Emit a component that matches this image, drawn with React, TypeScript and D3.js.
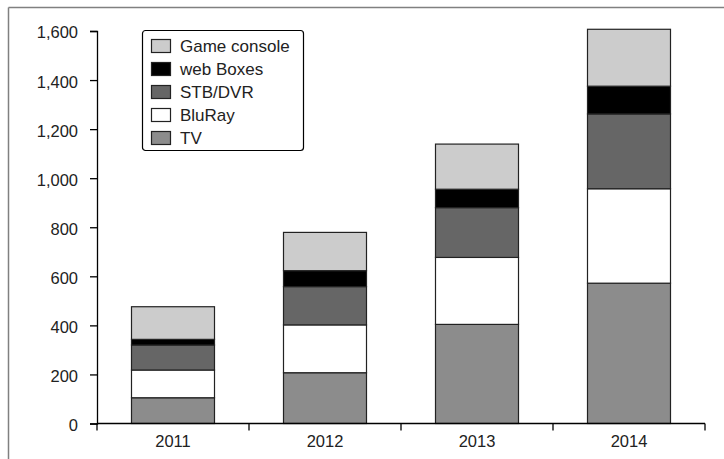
import { useEffect, useRef } from 'react';
import * as d3 from 'd3';

const years = ['2011', '2012', '2013', '2014'];
const seriesNames = ['TV', 'BluRay', 'STB/DVR', 'web Boxes', 'Game console'];
const tv = [105, 207, 404, 572];
const bluRay = [113, 195, 273, 385];
const stbDvr = [102, 156, 203, 305];
const webBoxes = [23, 65, 75, 113];
const gameConsole = [133, 156, 184, 232];
const yTicks = [0, 200, 400, 600, 800, 1000, 1200, 1400, 1600];
const colors = ['#8c8c8c', '#ffffff', '#666666', '#000000', '#cccccc'];

const W = 724;
const H = 459;
const FONT = '"Liberation Sans", Arial, sans-serif';

export default function App() {
  const svgRef = useRef<SVGSVGElement>(null);

  useEffect(() => {
    const svg = d3.select(svgRef.current);
    svg.selectAll('*').remove();

    const rows = years.map((year, i) => ({
      year,
      'TV': tv[i],
      'BluRay': bluRay[i],
      'STB/DVR': stbDvr[i],
      'web Boxes': webBoxes[i],
      'Game console': gameConsole[i],
    }));

    const left = 97;
    const right = 705;
    const top = 31;
    const bottom = 423.5;

    const x = d3.scaleBand().domain(years).range([left, right]).paddingInner(0).paddingOuter(0);
    const y = d3.scaleLinear().domain([0, 1600]).range([bottom, top]);
    const color = d3.scaleOrdinal<string>().domain(seriesNames).range(colors);

    // outer frame (only top & left show in the picture)
    svg.append('line').attr('x1', 8.5).attr('x2', W + 5).attr('y1', 7.5).attr('y2', 7.5)
      .attr('stroke', '#808080').attr('stroke-width', 1.5);
    svg.append('line').attr('x1', 8.5).attr('x2', 8.5).attr('y1', 7.5).attr('y2', H + 5)
      .attr('stroke', '#808080').attr('stroke-width', 1.5);

    const stacked = d3.stack<any>().keys(seriesNames)(rows);
    const barW = 83;

    svg.append('g')
      .selectAll('g')
      .data(stacked)
      .join('g')
      .attr('fill', (d) => color(d.key))
      .selectAll('rect')
      .data((d) => d)
      .join('rect')
      .attr('x', (d) => x(d.data.year)! + (x.bandwidth() - barW) / 2)
      .attr('width', barW)
      .attr('y', (d) => y(d[1]))
      .attr('height', (d) => y(d[0]) - y(d[1]))
      .attr('stroke', '#222')
      .attr('stroke-width', 1.2);

    // y axis
    const yAxis = svg.append('g')
      .attr('transform', `translate(${left},0)`)
      .call(d3.axisLeft(y).tickValues(yTicks).tickSize(7).tickPadding(12).tickFormat(d3.format(',')));
    yAxis.select('.domain').attr('stroke', '#000').attr('stroke-width', 1.3);
    yAxis.selectAll('.tick line').attr('stroke', '#000').attr('stroke-width', 1.3);
    yAxis.selectAll('text').attr('font-family', FONT).attr('font-size', 16.5).attr('fill', '#222')
      .attr('dy', '0.42em');

    // x axis with boundary ticks
    const xAxis = svg.append('g').attr('transform', `translate(0,${bottom})`);
    xAxis.append('line').attr('x1', left).attr('x2', right).attr('stroke', '#000').attr('stroke-width', 1.3);
    const bounds = years.map((yr) => x(yr)!).concat([right]);
    xAxis.selectAll('.bt').data(bounds).join('line')
      .attr('x1', (d) => d).attr('x2', (d) => d).attr('y1', 0).attr('y2', 7)
      .attr('stroke', '#000').attr('stroke-width', 1.3);
    xAxis.selectAll('.lbl').data(years).join('text')
      .attr('x', (d) => x(d)! + x.bandwidth() / 2)
      .attr('y', 23)
      .attr('text-anchor', 'middle')
      .attr('font-family', FONT).attr('font-size', 16.5).attr('fill', '#222')
      .text((d) => d);

    // legend
    const lg = svg.append('g').attr('transform', 'translate(142,30)');
    lg.append('rect').attr('x', 0.5).attr('y', 0.5).attr('width', 161).attr('height', 120)
      .attr('rx', 3).attr('fill', '#fff').attr('stroke', '#000').attr('stroke-width', 1.2);
    const legendOrder = seriesNames.slice().reverse();
    const item = lg.selectAll('.item').data(legendOrder).join('g')
      .attr('transform', (_d, i) => `translate(9,${15.5 + i * 23})`);
    item.append('rect').attr('x', 0.5).attr('y', -6).attr('width', 19).attr('height', 13)
      .attr('fill', (d) => color(d)).attr('stroke', '#222').attr('stroke-width', 1.2);
    item.append('text').attr('x', 29).attr('y', 1).attr('dy', '0.35em')
      .attr('font-family', FONT).attr('font-size', 17).attr('fill', '#222')
      .text((d) => d);
  }, []);

  return (
    <svg
      ref={svgRef}
      width={W}
      height={H}
      style={{ position: 'absolute', left: 0, top: 0, background: '#fff' }}
    />
  );
}
